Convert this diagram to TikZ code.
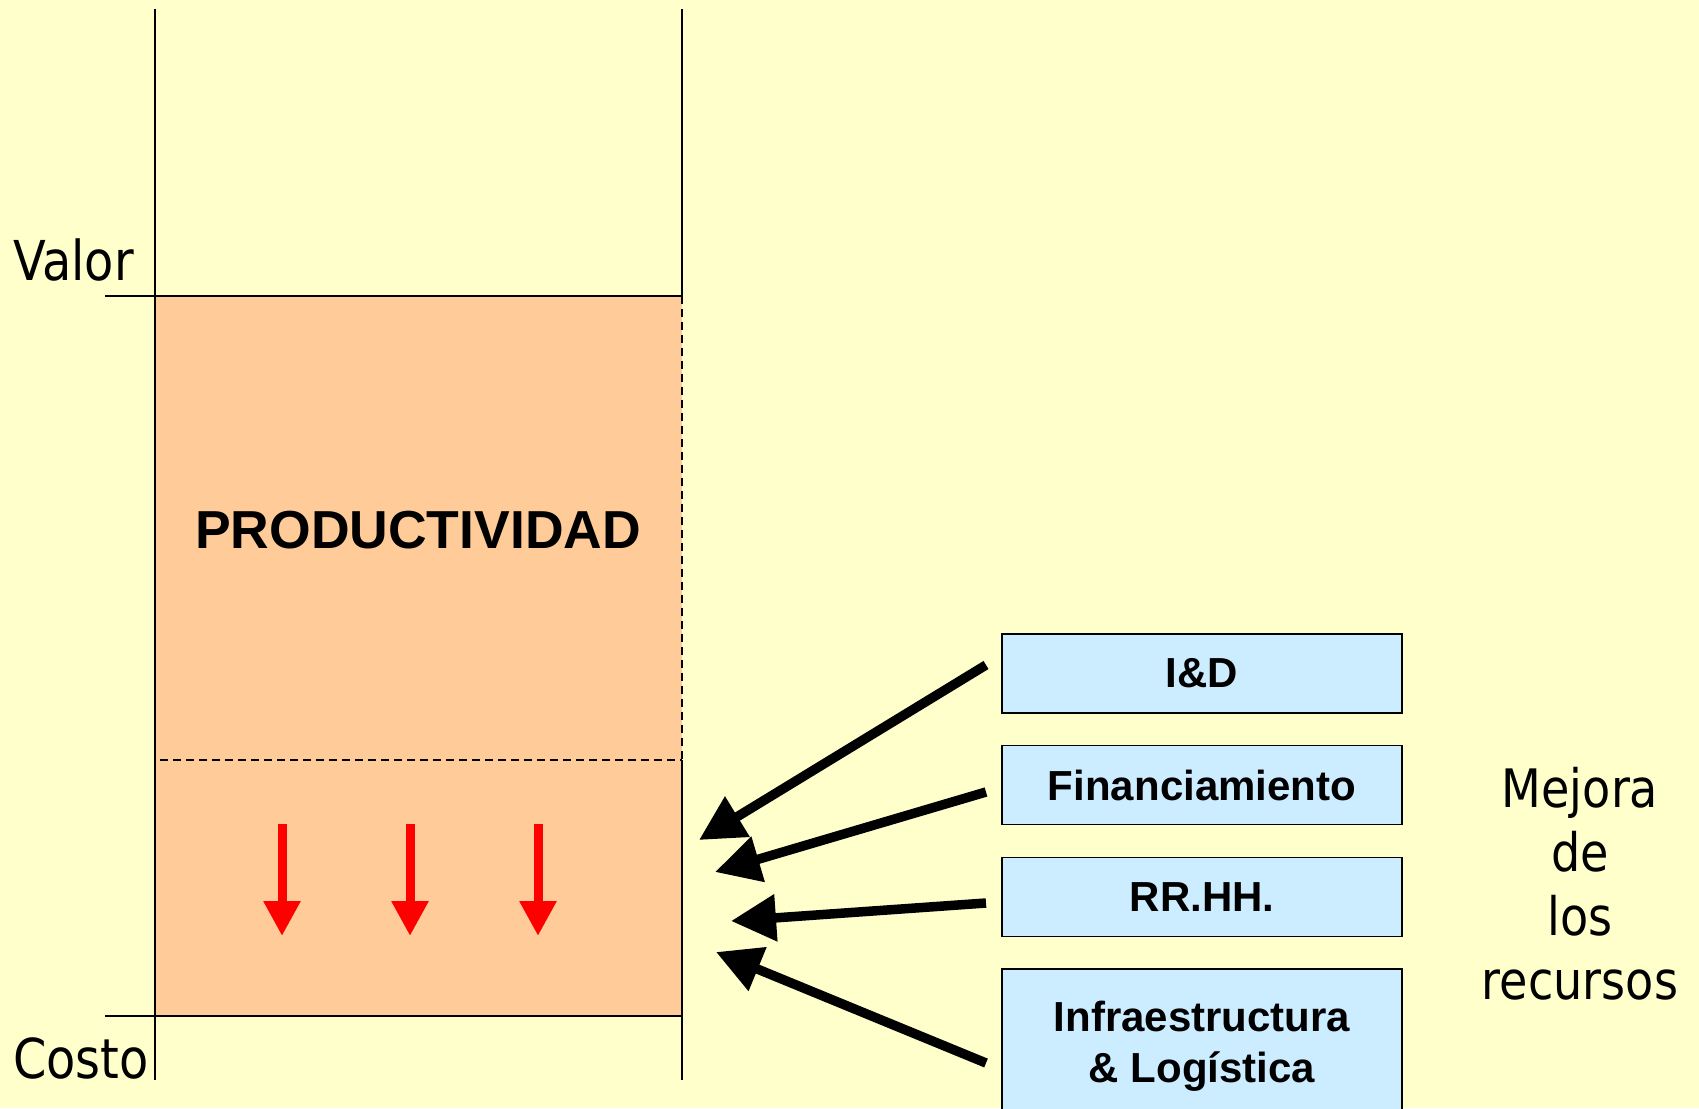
\documentclass[tikz,border=0pt]{standalone}
\usepackage{fontspec}
\setmainfont{Liberation Sans}
\newfontfamily\tahoma[FakeStretch=0.87]{DejaVu Sans}
\usetikzlibrary{arrows.meta}
\definecolor{bgyellow}{HTML}{FFFFCC}
\definecolor{prodorange}{HTML}{FFCC99}
\definecolor{boxblue}{HTML}{CCECFF}
\begin{document}
\begin{tikzpicture}[x=1bp,y=-1bp,
  axis/.style={line width=1.8bp, black},
  dashline/.style={line width=1.6bp, black, dash pattern=on 8bp off 5bp},
  resbox/.style={draw=black, line width=1.5bp, fill=boxblue, minimum width=400bp, minimum height=79bp, inner sep=0pt, font=\fontsize{42bp}{51bp}\selectfont\bfseries, align=center},
  bigarrow/.style={line width=9.5bp, black, -{Triangle[length=45bp,width=45bp]}},
  redarrow/.style={red, line width=9bp, -{Triangle[length=35bp,width=35bp]}},
  lbl/.style={font=\tahoma\fontsize{53bp}{64bp}\selectfont, inner sep=0pt},
  axlbl/.style={font=\tahoma\fontsize{55bp}{64bp}\selectfont, inner sep=0pt}]
\useasboundingbox (0,0) rectangle (1699,1108);
\fill[bgyellow] (0,0) rectangle (1699,1108);
% productivity block
\fill[prodorange] (155,296) rectangle (682,1016);
\draw[dashline] (160,760) -- (682,760);
\draw[dashline] (682,296) -- (682,760);
% axes
\draw[axis] (155,9) -- (155,1080);
\draw[axis] (682,9) -- (682,296);
\draw[axis] (682,760) -- (682,1080);
\draw[axis] (105,296) -- (682,296);
\draw[axis] (105,1016) -- (682,1016);
% labels
\node[axlbl, anchor=base west] (valor) at (13,280) {Valor};
\node[axlbl, anchor=base west] (costo) at (13,1078) {Costo};
\node[font=\fontsize{53.5bp}{60bp}\selectfont\bfseries, inner sep=0pt] (prod) at (418,530) {PRODUCTIVIDAD};
% red arrows
\coordinate (r1s) at (282,824); \coordinate (r1e) at (282,936);
\coordinate (r2s) at (410,824); \coordinate (r2e) at (410,936);
\coordinate (r3s) at (538,824); \coordinate (r3e) at (538,936);
\draw[redarrow] (r1s) -- (r1e);
\draw[redarrow] (r2s) -- (r2e);
\draw[redarrow] (r3s) -- (r3e);
% resource boxes
\node[resbox] (id) at (1202,673.5) {I\&D};
\node[resbox] (fin) at (1202,785) {Financiamiento};
\node[resbox] (rrhh) at (1202,897) {RR.HH.};
\node[resbox, minimum height=155bp] (infra) at (1202,1046.5) {Infraestructura\\\& Logística};
% black arrows
\coordinate (a1s) at (986,665); \coordinate (a1e) at (699,840);
\coordinate (a2s) at (986,792); \coordinate (a2e) at (715,872);
\coordinate (a3s) at (986,903); \coordinate (a3e) at (731,921);
\coordinate (a4s) at (986,1063); \coordinate (a4e) at (716,952);
\draw[bigarrow] (a1s) -- (a1e);
\draw[bigarrow] (a2s) -- (a2e);
\draw[bigarrow] (a3s) -- (a3e);
\draw[bigarrow] (a4s) -- (a4e);
% side label
\node[lbl, align=center, anchor=north] (mejora) at (1580,767) {Mejora\\de\\los\\recursos};
\end{tikzpicture}
\end{document}
